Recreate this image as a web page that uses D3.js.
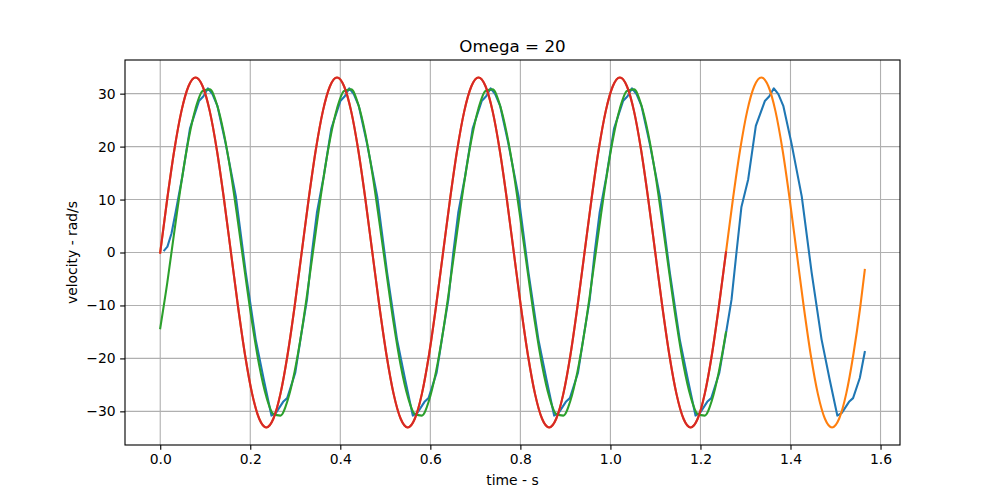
<!DOCTYPE html>
<html>
<head>
<meta charset="utf-8">
<script src="https://cdn.jsdelivr.net/npm/d3@7"></script>
<style>
  body { margin: 0; background: #fff; }
  text { font-family: "DejaVu Sans", sans-serif; fill: #000; }
</style>
</head>
<body>
<svg id="chart" width="1000" height="500"></svg>
<script>
// ---------------- data ----------------
const sampleTime = [
  0, 0.0157, 0.0314, 0.0471, 0.0628, 0.0785, 0.0942, 0.1100, 0.1257, 0.1414,
  0.1571, 0.1728, 0.1885, 0.2042, 0.2199, 0.2356, 0.2513, 0.2670, 0.2827, 0.2985,
  0.3142, 0.3299, 0.3456, 0.3613, 0.3770, 0.3927, 0.4084, 0.4241, 0.4398, 0.4555,
  0.4712, 0.4869, 0.5027, 0.5184, 0.5341, 0.5498, 0.5655, 0.5812, 0.5969, 0.6126,
  0.6283, 0.6440, 0.6597, 0.6754, 0.6912, 0.7069, 0.7226, 0.7383, 0.7540, 0.7697,
  0.7854, 0.8011, 0.8168, 0.8325, 0.8482, 0.8639, 0.8796, 0.8954, 0.9111, 0.9268,
  0.9425, 0.9582, 0.9739, 0.9896, 1.0053, 1.0210, 1.0367, 1.0524, 1.0681, 1.0838,
  1.0996, 1.1153, 1.1310, 1.1467, 1.1624, 1.1781, 1.1938, 1.2095, 1.2252, 1.2409,
  1.2566, 1.2723, 1.2881, 1.3038, 1.3195, 1.3352, 1.3509, 1.3666, 1.3823, 1.3980,
  1.4137, 1.4294, 1.4451, 1.4608, 1.4765, 1.4923, 1.5080, 1.5237, 1.5394, 1.5551,
  1.565
];

// orange: full reference curve (0 .. 1.565 s)
const orangeVelocity = [
  0, 10.2, 19.4, 26.7, 31.4, 33.05, 31.4, 26.7, 19.4, 10.2,
  0, -10.2, -19.4, -26.7, -31.4, -33.05, -31.4, -26.7, -19.4, -10.2,
  0, 10.2, 19.4, 26.7, 31.4, 33.05, 31.4, 26.7, 19.4, 10.2,
  0, -10.2, -19.4, -26.7, -31.4, -33.05, -31.4, -26.7, -19.4, -10.2,
  0, 10.2, 19.4, 26.7, 31.4, 33.05, 31.4, 26.7, 19.4, 10.2,
  0, -10.2, -19.4, -26.7, -31.4, -33.05, -31.4, -26.7, -19.4, -10.2,
  0, 10.2, 19.4, 26.7, 31.4, 33.05, 31.4, 26.7, 19.4, 10.2,
  0, -10.2, -19.4, -26.7, -31.4, -33.05, -31.4, -26.7, -19.4, -10.2,
  0, 10.2, 19.4, 26.7, 31.4, 33.05, 31.4, 26.7, 19.4, 10.2,
  0, -10.2, -19.4, -26.7, -31.4, -33.05, -31.4, -26.7, -19.4, -10.2,
  -3.3
];

// red: same reference curve, first 0 .. 1.2566 s
const redVelocity = [
  0, 10.2, 19.4, 26.7, 31.4, 33.05, 31.4, 26.7, 19.4, 10.2,
  0, -10.2, -19.4, -26.7, -31.4, -33.05, -31.4, -26.7, -19.4, -10.2,
  0, 10.2, 19.4, 26.7, 31.4, 33.05, 31.4, 26.7, 19.4, 10.2,
  0, -10.2, -19.4, -26.7, -31.4, -33.05, -31.4, -26.7, -19.4, -10.2,
  0, 10.2, 19.4, 26.7, 31.4, 33.05, 31.4, 26.7, 19.4, 10.2,
  0, -10.2, -19.4, -26.7, -31.4, -33.05, -31.4, -26.7, -19.4, -10.2,
  0, 10.2, 19.4, 26.7, 31.4, 33.05, 31.4, 26.7, 19.4, 10.2,
  0, -10.2, -19.4, -26.7, -31.4, -33.05, -31.4, -26.7, -19.4, -10.2,
  0
];

// green: fitted response, 0 .. 1.2566 s
const greenVelocity = [
  -14.3, -5.7, 4.0, 13.3, 21.3, 27.2, 30.5, 30.8, 28.0, 22.5,
  14.9, 5.7, -4.0, -13.3, -21.3, -27.2, -30.5, -30.8, -28.0, -22.5,
  -14.9, -5.7, 4.0, 13.3, 21.3, 27.2, 30.5, 30.8, 28.0, 22.5,
  14.9, 5.7, -4.0, -13.3, -21.3, -27.2, -30.5, -30.8, -28.0, -22.5,
  -14.9, -5.7, 4.0, 13.3, 21.3, 27.2, 30.5, 30.8, 28.0, 22.5,
  14.9, 5.7, -4.0, -13.3, -21.3, -27.2, -30.5, -30.8, -28.0, -22.5,
  -14.9, -5.7, 4.0, 13.3, 21.3, 27.2, 30.5, 30.8, 28.0, 22.5,
  14.9, 5.7, -4.0, -13.3, -21.3, -27.2, -30.5, -30.8, -28.0, -22.5,
  -15.1
];

// blue: measured velocity (irregular samples)
const blueTime = [
  0.009, 0.016, 0.025, 0.034, 0.049, 0.066, 0.086, 0.096, 0.106, 0.116, 0.127, 0.145, 0.168, 0.190, 0.212, 0.230, 0.247, 0.257, 0.273, 0.282, 0.300,
  0.314, 0.326, 0.337, 0.348, 0.363, 0.380, 0.400, 0.410, 0.420, 0.430, 0.441, 0.459, 0.482, 0.504, 0.526, 0.544, 0.561, 0.571, 0.587, 0.596, 0.614,
  0.628, 0.640, 0.651, 0.662, 0.677, 0.694, 0.714, 0.724, 0.734, 0.744, 0.755, 0.773, 0.796, 0.818, 0.840, 0.858, 0.875, 0.885, 0.901, 0.910, 0.928,
  0.942, 0.954, 0.965, 0.976, 0.991, 1.008, 1.028, 1.038, 1.048, 1.058, 1.069, 1.087, 1.110, 1.132, 1.154, 1.172, 1.189, 1.199, 1.215, 1.224, 1.242,
  1.257, 1.269, 1.280, 1.291, 1.306, 1.323, 1.343, 1.353, 1.363, 1.373, 1.384, 1.402, 1.425, 1.447, 1.469, 1.487, 1.504, 1.514, 1.530, 1.539, 1.554, 1.565
];
const blueVelocity = [
  0.4, 1.1, 3.6, 7.5, 14.3, 23.4, 28.6, 29.5, 31.0, 29.9, 27.7, 20.7, 10.6, -3.8, -16.4, -24.0, -30.8, -30.3, -28.2, -27.5, -22.7,
  -15.1, -8.9, 0.0, 7.5, 14.3, 23.4, 28.6, 29.5, 31.0, 29.9, 27.7, 20.7, 10.6, -3.8, -16.4, -24.0, -30.8, -30.3, -28.2, -27.5, -22.7,
  -15.1, -8.9, 0.0, 7.5, 14.3, 23.4, 28.6, 29.5, 31.0, 29.9, 27.7, 20.7, 10.6, -3.8, -16.4, -24.0, -30.8, -30.3, -28.2, -27.5, -22.7,
  -15.1, -8.9, 0.0, 7.5, 14.3, 23.4, 28.6, 29.5, 31.0, 29.9, 27.7, 20.7, 10.6, -3.8, -16.4, -24.0, -30.8, -30.3, -28.2, -27.5, -22.7,
  -15.1, -8.9, 0.0, 8.6, 13.8, 23.9, 28.6, 29.5, 31.0, 29.9, 27.7, 20.7, 10.6, -3.8, -16.4, -24.0, -30.8, -30.3, -28.2, -27.5, -23.7, -18.8
];

const xTicks = [0.0, 0.2, 0.4, 0.6, 0.8, 1.0, 1.2, 1.4, 1.6];
const yTicks = [-30, -20, -10, 0, 10, 20, 30];
const chartTitle = "Omega = 20";
const xLabel = "time - s";
const yLabel = "velocity - rad/s";

// ---------------- layout ----------------
const svg = d3.select("#chart");
const axLeft = 125, axRight = 900, axTop = 60, axBottom = 445;
const lineW = 2.08, thinW = 1.11;

const allT = sampleTime.concat(blueTime);
const allV = orangeVelocity.concat(redVelocity, greenVelocity, blueVelocity);
const [tMin, tMax] = d3.extent(allT);
const [vMin, vMax] = d3.extent(allV);
const tPad = (tMax - tMin) * 0.05, vPad = (vMax - vMin) * 0.05;

const x = d3.scaleLinear().domain([tMin - tPad, tMax + tPad]).range([axLeft, axRight]);
const y = d3.scaleLinear().domain([vMin - vPad, vMax + vPad]).range([axBottom, axTop]);

// grid
const grid = svg.append("g");
grid.selectAll(".gx").data(xTicks).enter().append("line")
  .attr("x1", d => x(d)).attr("x2", d => x(d))
  .attr("y1", axTop).attr("y2", axBottom)
  .attr("stroke", "#b0b0b0").attr("stroke-width", thinW);
grid.selectAll(".gy").data(yTicks).enter().append("line")
  .attr("x1", axLeft).attr("x2", axRight)
  .attr("y1", d => y(d)).attr("y2", d => y(d))
  .attr("stroke", "#b0b0b0").attr("stroke-width", thinW);

// clip
svg.append("clipPath").attr("id", "plotclip").append("rect")
  .attr("x", axLeft).attr("y", axTop).attr("width", axRight - axLeft).attr("height", axBottom - axTop);
const plot = svg.append("g").attr("clip-path", "url(#plotclip)");

const smooth = d3.line().x(d => x(d[0])).y(d => y(d[1])).curve(d3.curveMonotoneX);
const straight = d3.line().x(d => x(d[0])).y(d => y(d[1]));

const blueData = blueTime.map((t, i) => [t, blueVelocity[i]]);
const orangeData = orangeVelocity.map((v, i) => [sampleTime[i], v]);
const greenData = greenVelocity.map((v, i) => [sampleTime[i], v]);
const redData = redVelocity.map((v, i) => [sampleTime[i], v]);

const series = [
  { data: blueData, color: "#1f77b4", gen: straight },
  { data: orangeData, color: "#ff7f0e", gen: smooth },
  { data: greenData, color: "#2ca02c", gen: smooth },
  { data: redData, color: "#d62728", gen: smooth }
];
series.forEach(s => {
  plot.append("path").attr("d", s.gen(s.data))
    .attr("fill", "none").attr("stroke", s.color).attr("stroke-width", lineW)
    .attr("stroke-linejoin", "round").attr("stroke-linecap", "square");
});

// axes
const fmtY = d => (d < 0 ? "\u2212" + Math.abs(d) : String(d));
const xAxis = d3.axisBottom(x).tickValues(xTicks).tickFormat(d3.format(".1f"))
  .tickSizeInner(4.86).tickSizeOuter(0).tickPadding(4.5);
const yAxis = d3.axisLeft(y).tickValues(yTicks).tickFormat(fmtY)
  .tickSizeInner(4.86).tickSizeOuter(0).tickPadding(4.5);

const gx = svg.append("g").attr("transform", `translate(0,${axBottom})`).call(xAxis);
const gy = svg.append("g").attr("transform", `translate(${axLeft},0)`).call(yAxis);
[gx, gy].forEach(g => {
  g.select(".domain").remove();
  g.selectAll(".tick line").attr("stroke", "#000").attr("stroke-width", thinW);
  g.selectAll(".tick text").attr("font-family", "DejaVu Sans").attr("font-size", 13.9).attr("fill", "#000");
});

// frame
svg.append("rect").attr("x", axLeft).attr("y", axTop)
  .attr("width", axRight - axLeft).attr("height", axBottom - axTop)
  .attr("fill", "none").attr("stroke", "#000").attr("stroke-width", thinW);

// title & labels
svg.append("text").attr("x", (axLeft + axRight) / 2).attr("y", 51.5)
  .attr("text-anchor", "middle").attr("font-size", 16.7).text(chartTitle);
svg.append("text").attr("x", (axLeft + axRight) / 2).attr("y", 485)
  .attr("text-anchor", "middle").attr("font-size", 13.9).text(xLabel);
svg.append("text").attr("transform", `translate(77,${(axTop + axBottom) / 2}) rotate(-90)`)
  .attr("text-anchor", "middle").attr("font-size", 13.9).text(yLabel);
</script>
</body>
</html>
